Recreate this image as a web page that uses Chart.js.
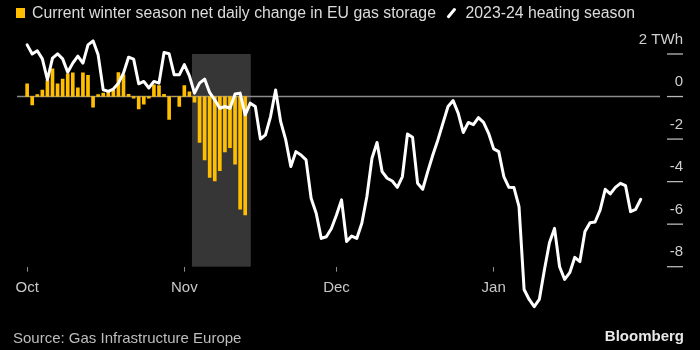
<!DOCTYPE html>
<html>
<head>
<meta charset="utf-8">
<script src="https://cdn.jsdelivr.net/npm/chart.js@4.4.1/dist/chart.umd.min.js"></script>
<style>
html,body{margin:0;padding:0;background:#000;}
#wrap{position:relative;width:700px;height:350px;background:#000;overflow:hidden;font-family:"Liberation Sans",Arial,Helvetica,sans-serif;}
#c{position:absolute;left:0;top:0;width:700px;height:350px;}
.legend{position:absolute;left:16px;top:3px;height:20px;display:flex;align-items:center;font-size:15.8px;color:#dcdcdc;white-space:nowrap;}
.sq{display:inline-block;width:9px;height:10px;background:#FFBF00;margin-right:7px;}
.slash{display:inline-block;width:2.6px;height:12px;background:#fff;transform:rotate(40deg);margin:0 13px 0 14px;border-radius:1px;}
.src{position:absolute;left:13px;top:329px;font-size:15px;line-height:18px;color:#bdbdbd;}
.brand{position:absolute;right:16px;top:327px;font-size:15px;line-height:18px;font-weight:bold;color:#e8e8e8;}
</style>
</head>
<body>
<div id="wrap">
  <canvas id="c" width="700" height="350"></canvas>
  <div class="legend"><span class="sq"></span><span>Current winter season net daily change in EU gas storage</span><span class="slash"></span><span>2023-24 heating season</span></div>
  <div class="src">Source: Gas Infrastructure Europe</div>
  <div class="brand">Bloomberg</div>
</div>
<script>
// Day index 0 = Oct 1
const monthTicks = [0, 31, 61, 92];
const monthLabels = ['Oct', 'Nov', 'Dec', 'Jan'];
const yTicks = [2, 0, -2, -4, -6, -8];
const yTickLabels = ['2 TWh', '0', '-2', '-4', '-6', '-8'];
// shaded window (day index range)
const highlightRange = [32.5, 44.1];

// Current winter season net daily change in EU gas storage (TWh), Oct 1 - Nov 13
const currentSeason = [
  0.6, -0.39, 0.09, 0.3, 0.75, 1.3, 0.6, 0.82, 1.07, 1.11,
  0.41, 1.11, 1.0, -0.5, 0.09, 0.16, 0.25, 0.3, 1.13, 1.02,
  0.1, -0.08, -0.58, -0.36, -0.08, 0.55, 0.52, 0.1, -1.07, 0,
  -0.47, 0.52, 0.22, -0.27, -2.16, -2.98, -3.8, -3.97, -3.48, -2.6,
  -2.4, -3.18, -5.3, -5.57
];

// 2023-24 heating season (TWh), Oct 1 - Jan 30
const season2324 = [
  2.43, 2.0, 2.15, 1.77, 0.79, 1.81, 2.01, 1.77, 1.14, 1.57,
  1.9, 1.57, 2.43, 2.62, 1.96, 0.32, 0.24, 0.35, 0.63, 1.1,
  1.85, 1.76, 0.6, 0.71, 0.4, 0.71, 0.63, 2.07, 2.01, 1.02,
  1.02, 1.5, 0.97, 0.16, 0.63, 0.82, 0.18, -0.16, -0.55, -0.47,
  -0.55, 0.12, 0.16, -0.86, -0.31, -0.47, -2.0, -1.8, -0.94, 0.31,
  -1.18, -2.04, -3.29, -2.59, -2.75, -2.98, -4.78, -5.49, -6.67, -6.59,
  -6.2, -5.57, -4.86, -6.82, -6.56, -6.67, -5.96, -4.7, -2.9, -2.16,
  -3.53, -3.84, -3.97, -4.27, -3.76, -1.76, -1.91, -4.08, -4.36, -3.53,
  -2.75, -2.04, -1.25, -0.47, -0.19, -0.78, -1.69, -1.22, -1.32, -0.99,
  -1.21, -1.73, -2.46, -2.59, -3.76, -4.27, -4.28, -5.18, -9.07, -9.54,
  -9.88, -9.54, -8.16, -6.87, -6.2, -8.0, -8.6, -8.28, -7.56, -7.76,
  -6.35, -5.93, -5.9, -5.33, -4.36, -4.58, -4.27, -4.08, -4.19, -5.41,
  -5.3, -4.83
];

const FONT = '"Liberation Sans", Arial, Helvetica, sans-serif';

const bgPlugin = {
  id: 'bg',
  beforeDatasetsDraw(chart) {
    const {ctx, chartArea: a, scales: {x, y}} = chart;
    ctx.save();
    const x0 = x.getPixelForValue(highlightRange[0]);
    const x1 = x.getPixelForValue(highlightRange[1]);
    ctx.fillStyle = '#363636';
    ctx.fillRect(x0, a.top, x1 - x0, a.bottom - a.top);
    const y0 = y.getPixelForValue(0);
    ctx.strokeStyle = '#8c8c8c';
    ctx.lineWidth = 1.5;
    ctx.beginPath();
    ctx.moveTo(a.left, y0);
    ctx.lineTo(a.right, y0);
    ctx.stroke();
    ctx.restore();
  }
};

const yAxisPlugin = {
  id: 'yaxis',
  afterDraw(chart) {
    const {ctx, chartArea: a, scales: {y}} = chart;
    ctx.save();
    ctx.font = '15px ' + FONT;
    ctx.textAlign = 'right';
    ctx.textBaseline = 'middle';
    yTicks.forEach((v, k) => {
      const py = y.getPixelForValue(v);
      ctx.strokeStyle = '#b8b8b8';
      ctx.lineWidth = 1.3;
      ctx.beginPath();
      ctx.moveTo(a.right + 7, py);
      ctx.lineTo(a.right + 23, py);
      ctx.stroke();
      ctx.fillStyle = '#cfcfcf';
      ctx.fillText(yTickLabels[k], a.right + 23, py - 14.5);
    });
    ctx.restore();
  }
};

new Chart(document.getElementById('c').getContext('2d'), {
  type: 'bar',
  data: {
    datasets: [
      {
        type: 'line',
        label: '2023-24 heating season',
        data: season2324.map((v, i) => ({x: i, y: v})),
        borderColor: '#ffffff',
        borderWidth: 3,
        pointRadius: 0,
        tension: 0,
        clip: false,
        borderJoinStyle: 'round',
        borderCapStyle: 'round',
        order: 0
      },
      {
        type: 'bar',
        label: 'Current winter season net daily change in EU gas storage',
        data: currentSeason.map((v, i) => ({x: i, y: v})),
        backgroundColor: '#FFBF00',
        barThickness: 3,
        order: 1
      }
    ]
  },
  options: {
    responsive: false,
    animation: false,
    devicePixelRatio: 1,
    layout: {padding: {left: 17, right: 40, top: 54, bottom: 45.7}},
    plugins: {legend: {display: false}, tooltip: {enabled: false}},
    scales: {
      x: {
        type: 'linear',
        min: -2,
        max: 124.8,
        offset: false,
        grid: {display: true, offset: false, drawOnChartArea: false, drawTicks: true, tickLength: 5, color: '#8a8a8a', lineWidth: 1},
        border: {display: false},
        afterBuildTicks: (s) => { s.ticks = monthTicks.map(v => ({value: v})); },
        ticks: {
          autoSkip: false, maxRotation: 0, minRotation: 0, padding: 7.3,
          color: '#c8c8c8', font: {size: 15, family: FONT},
          callback: (v) => { const k = monthTicks.indexOf(v); return k >= 0 ? monthLabels[k] : ''; }
        }
      },
      y: {min: -8, max: 2, display: false}
    }
  },
  plugins: [bgPlugin, yAxisPlugin]
});
</script>
</body>
</html>
